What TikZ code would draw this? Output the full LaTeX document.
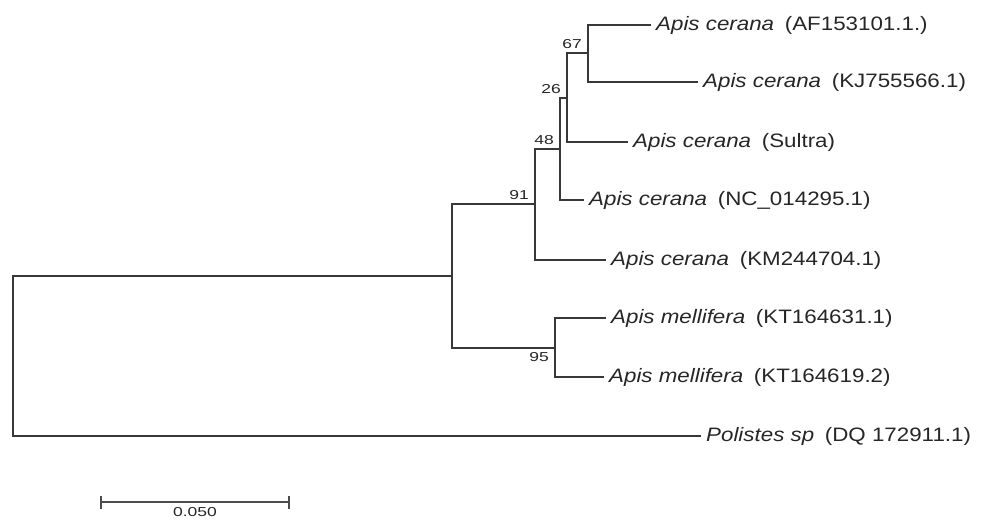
\documentclass[tikz,border=0pt]{standalone}
\usepackage{fontspec}
\usepackage{tikz}
\usetikzlibrary{arrows.meta,positioning}
\newfontfamily\treefont[FakeStretch=1.15]{Liberation Sans}
\newfontfamily\bootfont[FakeStretch=1.35]{Liberation Sans}

\begin{document}
\begin{tikzpicture}[x=1bp,y=-1bp,
  node distance=3bp and 5bp,
  branch/.style={line width=2bp,draw=black!78,line cap=rect},
  taxon/.style={anchor=west,inner xsep=6bp,inner ysep=0pt,text=black!85,font=\treefont\fontsize{19.5}{22}\selectfont},
  boot/.style={fill=white,inner sep=1bp,text=black!85,font=\bootfont\fontsize{13}{14}\selectfont},
  scalebar/.style={line width=2bp,draw=black!70,{Bar[width=13bp,line width=2.2bp]}-{Bar[width=13bp,line width=2.2bp]}}
]
\useasboundingbox (0,0) rectangle (981,528);

% Internal nodes
\coordinate (root) at (13,356);
\coordinate (napis) at (452,276);
\coordinate (n91) at (535,204);
\coordinate (n48) at (560,149);
\coordinate (n26) at (567,98);
\coordinate (n67) at (588,53);
\coordinate (nmel) at (555,348);

% Taxa
\node[taxon] (af) at (650,25) {\textit{Apis cerana}\hspace{0.55em}(AF153101.1.)};
\node[taxon] (kj) at (697,82) {\textit{Apis cerana}\hspace{0.55em}(KJ755566.1)};
\node[taxon] (sultra) at (627,142) {\textit{Apis cerana}\hspace{0.55em}(Sultra)};
\node[taxon] (nc) at (583,200) {\textit{Apis cerana}\hspace{0.55em}(NC\_014295.1)};
\node[taxon] (km) at (605,260) {\textit{Apis cerana}\hspace{0.55em}(KM244704.1)};
\node[taxon] (kt1) at (605,318) {\textit{Apis mellifera}\hspace{0.55em}(KT164631.1)};
\node[taxon] (kt2) at (603,377) {\textit{Apis mellifera}\hspace{0.55em}(KT164619.2)};
\node[taxon] (pol) at (700,436) {\textit{Polistes sp}\hspace{0.55em}(DQ 172911.1)};

% Branches
\draw[branch] (root) |- (napis);
\draw[branch] (root) |- (pol.west);
\draw[branch] (napis) |- (n91);
\draw[branch] (napis) |- (nmel);
\draw[branch] (n91) |- (n48);
\draw[branch] (n91) |- (km.west);
\draw[branch] (n48) |- (n26);
\draw[branch] (n48) |- (nc.west);
\draw[branch] (n26) |- (n67);
\draw[branch] (n26) |- (sultra.west);
\draw[branch] (n67) |- (af.west);
\draw[branch] (n67) |- (kj.west);
\draw[branch] (nmel) |- (kt1.west);
\draw[branch] (nmel) |- (kt2.west);

% Bootstrap values
\node[boot,above left=of n67] (b67) {67};
\node[boot,above left=of n26] (b26) {26};
\node[boot,above left=of n48] (b48) {48};
\node[boot,above left=of n91] (b91) {91};
\node[boot,below left=of nmel] (b95) {95};

% Scale bar
\coordinate (sbl) at (100,502);
\coordinate (sbr) at (290,502);
\coordinate (sbmid) at (195,502);
\draw[scalebar] (sbl) -- (sbr);
\node[boot,below=4bp of sbmid] (sblabel) {0.050};

\end{tikzpicture}
\end{document}
